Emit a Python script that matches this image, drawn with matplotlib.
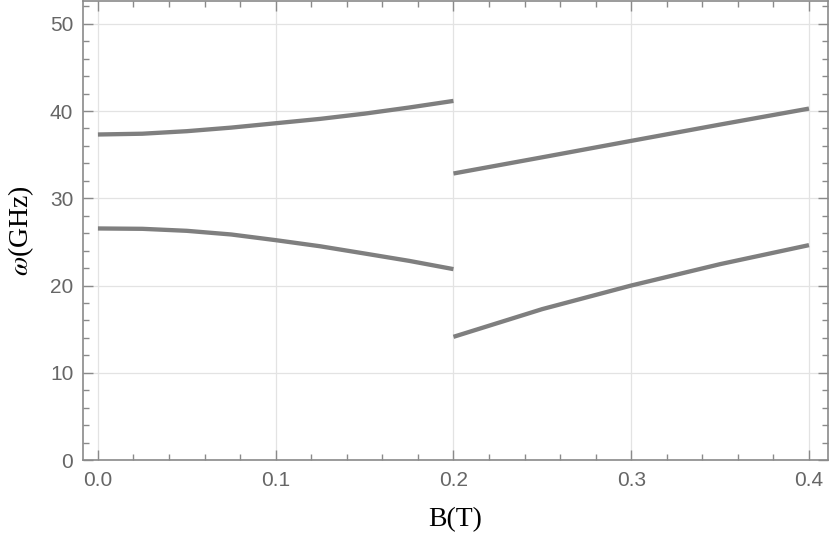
import matplotlib
matplotlib.use("Agg")
import matplotlib.pyplot as plt
from matplotlib.ticker import MultipleLocator, FormatStrFormatter

# Значения
B_low = [0.0, 0.025, 0.05, 0.075, 0.1, 0.125, 0.15, 0.175, 0.2]
upper_low = [37.31, 37.4, 37.69, 38.1, 38.6, 39.1, 39.7, 40.4, 41.16]
lower_low = [26.54, 26.5, 26.27, 25.85, 25.2, 24.5, 23.67, 22.83, 21.88]

B_high = [0.2, 0.25, 0.3, 0.35, 0.4]
upper_high = [32.84, 34.7, 36.58, 38.45, 40.28]
lower_high = [14.12, 17.3, 20.0, 22.45, 24.63]

LINE_COLOR = '#7f7f7f'
FRAME_COLOR = '#8a8a8a'
LABEL_COLOR = '#666666'

plt.rcParams['mathtext.fontset'] = 'stix'

fig = plt.figure(figsize=(8.3, 5.5), dpi=100)
ax = fig.add_axes([0.1, 0.1636, 0.8976, 0.8344])

# Кривые
for xs, ys in [(B_low, upper_low), (B_low, lower_low),
               (B_high, upper_high), (B_high, lower_high)]:
    ax.plot(xs, ys, color=LINE_COLOR, lw=3.1, solid_capstyle='butt',
            solid_joinstyle='round', zorder=3)

ax.set_xlim(-0.0084, 0.4107)
ax.set_ylim(0, 52.6)

# Деления
ax.xaxis.set_major_locator(MultipleLocator(0.1))
ax.xaxis.set_minor_locator(MultipleLocator(0.02))
ax.yaxis.set_major_locator(MultipleLocator(10))
ax.yaxis.set_minor_locator(MultipleLocator(2))
ax.xaxis.set_major_formatter(FormatStrFormatter('%.1f'))

ax.tick_params(which='both', direction='in', top=True, right=True,
               color=FRAME_COLOR, labelcolor=LABEL_COLOR, labelsize=15,
               width=1)
ax.tick_params(which='major', length=7)
ax.tick_params(which='minor', length=4)
ax.tick_params(axis='x', pad=8)
ax.tick_params(axis='y', pad=7)
for lbl in ax.get_xticklabels() + ax.get_yticklabels():
    lbl.set_family('Liberation Sans')

for sp in ax.spines.values():
    sp.set_color(FRAME_COLOR)
    sp.set_linewidth(1.2)

ax.grid(True, which='major', color='#e3e3e3', lw=0.9, zorder=0)

ax.set_xlabel('B(T)', family='Liberation Serif', fontsize=20, color='black',
              labelpad=12)
ax.set_ylabel(r'$\omega$(GHz)', family='Liberation Serif', fontsize=20,
              color='black', labelpad=10)

fig.savefig('out.png', dpi=100)
